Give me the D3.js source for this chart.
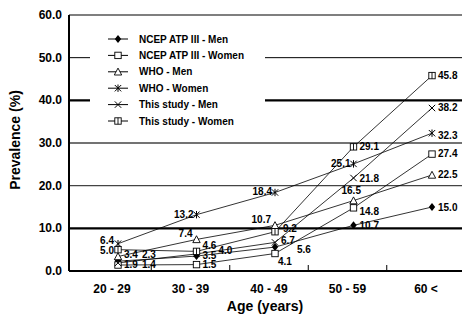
<!DOCTYPE html>
<html><head><meta charset="utf-8">
<script src="https://cdn.jsdelivr.net/npm/d3@7/dist/d3.min.js"></script>
<style>
body{margin:0;background:#fff;}
text{font-family:"Liberation Sans",Arial,sans-serif;font-weight:bold;fill:#000;}
</style></head>
<body><svg id="c" width="465" height="319"></svg>
<script>
// ---- data ----
const categories = ["20 - 29", "30 - 39", "40 - 49", "50 - 59", "60 <"];
const yTicks = [0, 10, 20, 30, 40, 50, 60];
const seriesNames = ["NCEP ATP III - Men", "NCEP ATP III - Women", "WHO - Men", "WHO - Women", "This study - Men", "This study - Women"];
const ncepMen     = [2.3, 3.5, 5.6, 10.7, 15.0];
const ncepWomen   = [1.4, 1.5, 4.1, 14.8, 27.4];
const whoMen      = [3.4, 7.4, 10.7, 16.5, 22.5];
const whoWomen    = [6.4, 13.2, 18.4, 25.1, 32.3];
const studyMen    = [1.9, 4.0, 6.7, 21.8, 38.2];
const studyWomen  = [5.0, 4.6, 9.2, 29.1, 45.8];
const seriesValues = [ncepMen, ncepWomen, whoMen, whoWomen, studyMen, studyWomen];

// ---- styling ----
const markers = ["diamond", "square", "triangle", "asterisk", "times", "squareLine"];
// label placement per series: [dx, dy, anchor] for each point
const labelPos = [
  [[24,-3,"start"],[6,2.5,"start"],[22,6,"start"],[6,4,"start"],[6,4,"start"]],
  [[24,3,"start"],[6,3.5,"start"],[3,11,"start"],[6,7,"start"],[6,3,"start"]],
  [[6,1.5,"start"],[-4,-2,"end"],[-4,-2,"end"],[-12,-7,"start"],[6,3,"start"]],
  [[-4,0,"end"],[-3,3,"end"],[-3,3,"end"],[-3,3,"end"],[6,6,"start"]],
  [[6,5,"start"],[22,0,"start"],[6,2,"start"],[6,4,"start"],[6,3,"start"]],
  [[-4,4,"end"],[6,-2.4,"start"],[8,0,"start"],[6,3,"start"],[6,3,"start"]]
];

const svg = d3.select("#c");
const pLeft = 69, pRight = 462, pTop = 15, pBottom = 271;
const y = d3.scaleLinear().domain([0, 60]).range([pBottom, pTop]);
const x = d3.scalePoint().domain(categories).range([118, 432]);

// grid lines
const gridW = {0:0, 10:2.2, 20:1.4, 30:1.4, 40:2.2, 50:1, 60:1.2};
svg.append("g").selectAll("line").data(yTicks.filter(d => d > 0)).join("line")
  .attr("x1", pLeft).attr("x2", pRight)
  .attr("y1", d => y(d)).attr("y2", d => y(d))
  .attr("stroke", d => (d === 20 || d === 30) ? "#444" : "#000")
  .attr("stroke-width", d => gridW[d]);

// y axis labels
svg.append("g").selectAll("text").data(yTicks).join("text")
  .attr("x", 62).attr("y", d => y(d) + 4)
  .attr("text-anchor", "end").attr("font-size", 12)
  .text(d => d.toFixed(1));

// axes lines
svg.append("line").attr("x1", pLeft).attr("x2", pLeft).attr("y1", pTop).attr("y2", pBottom)
  .attr("stroke", "#000").attr("stroke-width", 2);
svg.append("line").attr("x1", pLeft).attr("x2", pRight).attr("y1", pBottom).attr("y2", pBottom)
  .attr("stroke", "#000").attr("stroke-width", 2);

// x ticks between categories (inward)
const step = x.step();
svg.append("g").selectAll("line").data(categories.slice(0, -1)).join("line")
  .attr("x1", d => x(d) + step / 2 - 6).attr("x2", d => x(d) + step / 2 - 6)
  .attr("y1", pBottom).attr("y2", pBottom - 6)
  .attr("stroke", "#000").attr("stroke-width", 1);

svg.append("g").selectAll("text").data(categories).join("text")
  .attr("x", d => x(d) - 6).attr("y", 293)
  .attr("text-anchor", "middle").attr("font-size", 12)
  .text(d => d);

// axis titles
svg.append("text").attr("x", 265).attr("y", 311).attr("text-anchor", "middle")
  .attr("font-size", 14).text("Age (years)");
svg.append("text").attr("transform", "translate(20," + 140 + ") rotate(-90)")
  .attr("text-anchor", "middle").attr("font-size", 14).text("Prevalence (%)");

// marker drawing
function drawMarker(g, type, cx, cy) {
  const s = 3.2;
  if (type === "diamond") {
    g.append("path").attr("d", `M${cx},${cy-s-0.8}L${cx+s},${cy}L${cx},${cy+s+0.8}L${cx-s},${cy}Z`).attr("fill", "#000");
  } else if (type === "square") {
    g.append("rect").attr("x", cx - s).attr("y", cy - s).attr("width", 2*s).attr("height", 2*s)
      .attr("fill", "#fff").attr("stroke", "#000").attr("stroke-width", 0.9);
  } else if (type === "squareLine") {
    g.append("rect").attr("x", cx - s).attr("y", cy - s).attr("width", 2*s).attr("height", 2*s)
      .attr("fill", "#fff").attr("stroke", "#000").attr("stroke-width", 0.9);
    g.append("line").attr("x1", cx).attr("x2", cx).attr("y1", cy - s).attr("y2", cy + s)
      .attr("stroke", "#000").attr("stroke-width", 0.9);
  } else if (type === "triangle") {
    g.append("path").attr("d", `M${cx},${cy-s-0.5}L${cx+s+0.5},${cy+s}L${cx-s-0.5},${cy+s}Z`)
      .attr("fill", "#fff").attr("stroke", "#000").attr("stroke-width", 0.9);
  } else if (type === "times") {
    g.append("path").attr("d", `M${cx-s},${cy-s}L${cx+s},${cy+s}M${cx+s},${cy-s}L${cx-s},${cy+s}`)
      .attr("stroke", "#000").attr("stroke-width", 1);
  } else if (type === "asterisk") {
    g.append("path").attr("d", `M${cx-s},${cy-s}L${cx+s},${cy+s}M${cx+s},${cy-s}L${cx-s},${cy+s}M${cx},${cy-s-0.5}L${cx},${cy+s+0.5}`)
      .attr("stroke", "#000").attr("stroke-width", 1);
  }
}

// series lines
const line = d3.line().x((d, i) => x(categories[i])).y(d => y(d));
const gs = svg.append("g");
seriesValues.forEach((vals, si) => {
  gs.append("path").attr("d", line(vals)).attr("fill", "none")
    .attr("stroke", "#000").attr("stroke-width", 0.8);
});
seriesValues.forEach((vals, si) => {
  vals.forEach((v, i) => drawMarker(gs, markers[si], x(categories[i]), y(v)));
});
seriesValues.forEach((vals, si) => {
  vals.forEach((v, i) => {
    const p = labelPos[si][i];
    gs.append("text").attr("x", x(categories[i]) + p[0]).attr("y", y(v) + p[1])
      .attr("text-anchor", p[2]).attr("font-size", 10).text(v.toFixed(1));
  });
});

// legend
const lg = svg.append("g");
lg.append("rect").attr("x", 90).attr("y", 28).attr("width", 175).attr("height", 102).attr("fill", "#fff");
seriesNames.forEach((name, i) => {
  const ly = 39 + i * 16.4;
  lg.append("line").attr("x1", 108).attr("x2", 128).attr("y1", ly).attr("y2", ly)
    .attr("stroke", "#000").attr("stroke-width", 1);
  drawMarker(lg, markers[i], 118, ly);
  lg.append("text").attr("x", 139).attr("y", ly + 3.5).attr("font-size", 10).text(name);
});
</script></body></html>
